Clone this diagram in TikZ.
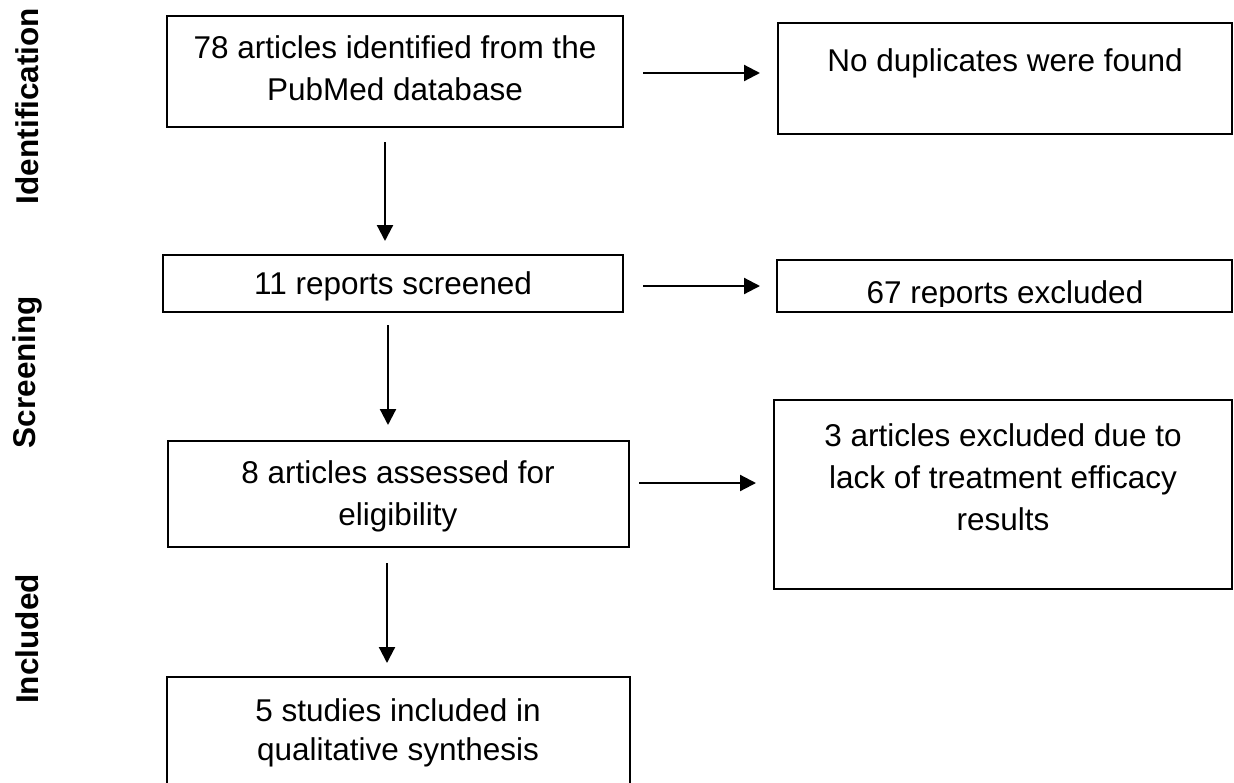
\documentclass[tikz,border=0pt]{standalone}
\usepackage{fontspec}
\setmainfont{Liberation Sans}
\usetikzlibrary{arrows.meta}
\begin{document}
\begin{tikzpicture}[x=1pt,y=-1pt,
  box/.style={draw, line width=2.6pt, inner sep=0pt, outer sep=0pt, anchor=north west},
  txt/.style={inner sep=0pt, align=center, anchor=base, font=\fontsize{31.5}{42}\selectfont},
  side/.style={inner sep=0pt, rotate=90, font=\fontsize{31.5}{38}\selectfont\bfseries},
  arr/.style={line width=2.2pt, -{Triangle[length=16pt,width=16pt]}}]
\useasboundingbox (0,0) rectangle (1234,782);
\clip (0,0) rectangle (1234,782);
% side labels
\node[side] (l1) at (27,106) {Identification};
\node[side] (l2) at (27,372) {Screening};
\node[side] (l3) at (27,639) {Included};
% boxes
\node[box, minimum width=456pt, minimum height=111pt] (b1) at (167,16) {};
\node[box, minimum width=454pt, minimum height=111pt] (b2) at (778,23) {};
\node[box, minimum width=460pt, minimum height=57pt] (b3) at (163,255) {};
\node[box, minimum width=455pt, minimum height=52pt] (b4) at (777,260) {};
\node[box, minimum width=461pt, minimum height=106pt] (b5) at (168,441) {};
\node[box, minimum width=458pt, minimum height=189pt] (b6) at (774,400) {};
\node[box, minimum width=463pt, minimum height=150pt] (b7) at (167,677) {};
% texts (base anchor = baseline of last line)
\node[txt] (t1) at (395,100) {78 articles identified from the\\PubMed database};
\node[txt] (t2) at (1005,71) {No duplicates were found};
\node[txt] (t3) at (393,294) {11 reports screened};
\begin{scope}
\clip (777,260) rectangle (1232,306);
\node[txt] (t4) at (1005,303) {67 reports excluded};
\end{scope}
\node[txt] (t5) at (398,525) {8 articles assessed for\\eligibility};
\node[txt] (t6) at (1003,530) {3 articles excluded due to\\lack of treatment efficacy\\results};
\node[txt, font=\fontsize{31.5}{38.5}\selectfont] (t7) at (398,760) {5 studies included in\\qualitative synthesis};
% horizontal arrows
\draw[arr, shorten >=18pt] ([xshift=20pt,yshift=-1.5pt]b1.east) coordinate (h1) -- (h1 -| b2.west);
\draw[arr, shorten >=17pt] ([xshift=20pt,yshift=-2.5pt]b3.east) coordinate (h2) -- (h2 -| b4.west);
\draw[arr, shorten >=18pt] ([xshift=10pt,yshift=11pt]b5.east) coordinate (h3) -- (h3 -| b6.west);
% vertical arrows
\draw[arr, shorten >=14pt] ([xshift=-10pt,yshift=-15pt]b1.south) coordinate (v1) -- (v1 |- b3.north);
\draw[arr, shorten >=16pt] ([xshift=-5pt,yshift=-13pt]b3.south) coordinate (v2) -- (v2 |- b5.north);
\draw[arr, shorten >=14pt] ([xshift=-11.5pt,yshift=-16pt]b5.south) coordinate (v3) -- (v3 |- b7.north);
\end{tikzpicture}
\end{document}
